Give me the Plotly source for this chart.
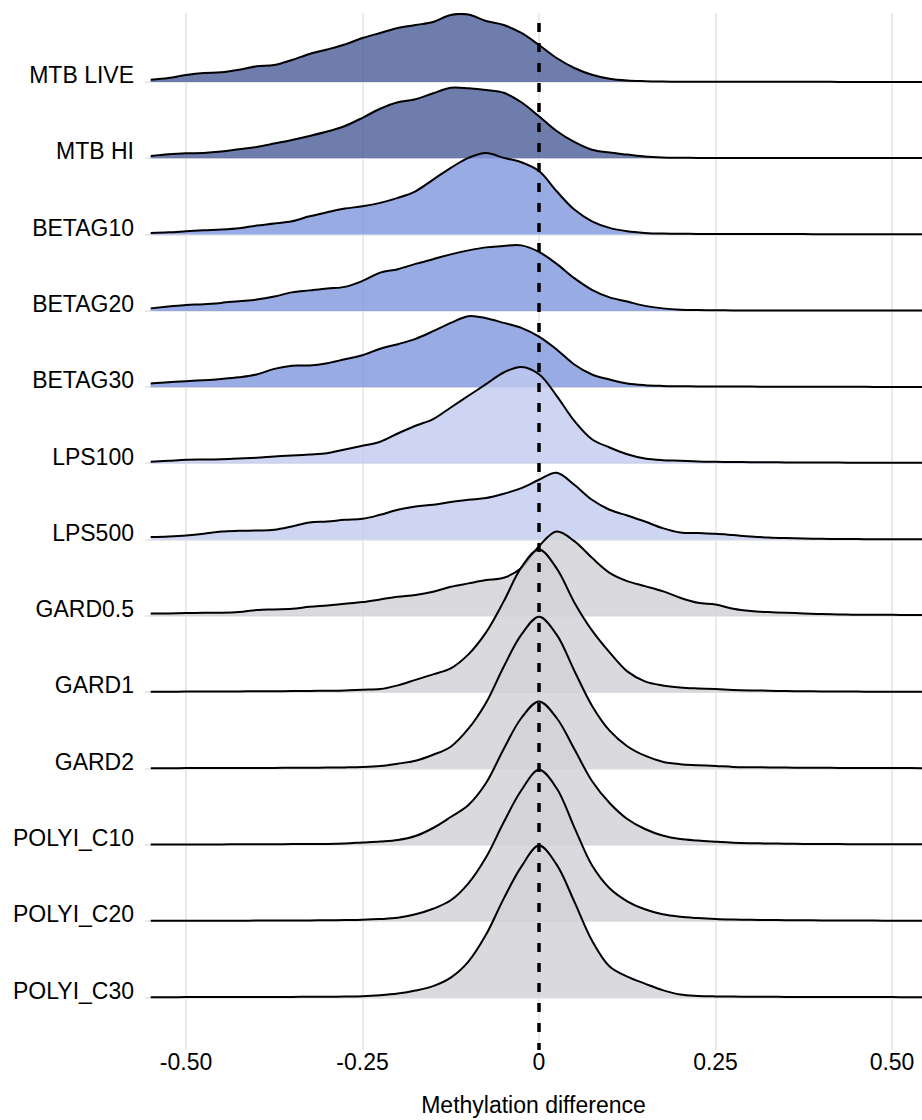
import plotly.graph_objects as go

# ---------------- data ----------------
categories = ["MTB LIVE", "MTB HI", "BETAG10", "BETAG20", "BETAG30", "LPS100", "LPS500",
              "GARD0.5", "GARD1", "GARD2", "POLYI_C10", "POLYI_C20", "POLYI_C30"]
groups = ["MTB", "MTB", "BETAG", "BETAG", "BETAG", "LPS", "LPS",
          "CTRL", "CTRL", "CTRL", "CTRL", "CTRL", "CTRL"]

x_grid = [-0.55, -0.525, -0.5, -0.475, -0.45, -0.425, -0.4, -0.375, -0.35, -0.325, -0.3,
          -0.275, -0.25, -0.225, -0.2, -0.175, -0.15, -0.125, -0.1, -0.075, -0.05, -0.025,
          0, 0.025, 0.05, 0.075, 0.1, 0.125, 0.15, 0.175, 0.2, 0.225, 0.25, 0.275,
          0.3, 0.325, 0.35, 0.375, 0.4, 0.425, 0.45, 0.475, 0.5, 0.525, 0.55]

# density (relative height) of each ridge at x_grid
d_mtb_live = [2.3, 4, 7, 9, 9.7, 12.3, 15.7, 17, 22, 28, 32.5,
              37.5, 44, 49, 54, 57, 60, 67, 67.5, 61, 57, 49, 37, 24, 14, 7.3, 3.3, 1.5, 0.8, 0.4, 0.3, 0.2, 0.2, 0.2,
              0.2, 0.2, 0.15, 0.15, 0.15, 0.1, 0.1, 0.1, 0.1, 0.1, 0.1]
d_mtb_hi = [2.3, 4, 5, 5.3, 6.7, 9, 11.3, 14.7, 18.3, 22.3, 26.7,
            32.3, 40.5, 49.5, 56, 59, 65, 70.5, 70, 68.3, 65.5, 56, 42, 27.3, 16.3, 8.5, 5.7, 3.7, 1.7, 0.8, 0.5, 0.4, 0.4, 0.3,
            0.3, 0.3, 0.3, 0.2, 0.2, 0.2, 0.2, 0.2, 0.2, 0.2, 0.2]
d_betag10 = [1.7, 2.3, 3.3, 4.3, 5, 6.3, 9, 11, 13.3, 18.3, 22.3,
             26, 28.3, 31.7, 36.7, 43.3, 55, 66.7, 76.7, 81.5, 76.7, 72.3, 63.5, 43.3, 25, 13.3, 6.7, 3.3, 1.7, 1, 0.8, 0.7, 0.7, 0.6,
             0.6, 0.5, 0.5, 0.5, 0.4, 0.4, 0.3, 0.3, 0.3, 0.3, 0.3]
d_betag20 = [2.5, 4.3, 6, 6.7, 8, 9.7, 11.3, 14.3, 18.5, 20.5, 22.5,
             24, 30, 38.3, 41.7, 47, 51.7, 56.5, 60.5, 63.5, 65, 65.5, 59, 47, 32.7, 21, 13.5, 9.3, 5, 2.5, 1.2, 0.8, 0.6, 0.5,
             0.5, 0.5, 0.5, 0.5, 0.5, 0.5, 0.5, 0.5, 0.5, 0.5, 0.5]
d_betag30 = [3.7, 5, 6, 7, 8.3, 10, 12.7, 18.3, 21.5, 21.7, 24,
             28, 32, 38.5, 43, 48.3, 56, 64.3, 71, 69, 64.3, 59.3, 50.5, 37.7, 22.7, 12.7, 7.7, 3.7, 2, 1.3, 1, 0.8, 0.7, 0.6,
             0.6, 0.5, 0.5, 0.5, 0.4, 0.4, 0.4, 0.3, 0.3, 0.3, 0.3]
d_lps100 = [1.7, 2.7, 3.7, 4, 4.3, 5, 5.7, 7, 8, 9, 10.3,
            14, 17.7, 21.7, 30, 37.7, 44.3, 56, 67.7, 79.3, 91, 96.5, 89.3, 67.7, 42.7, 24.3, 16, 9.3, 5, 3.3, 2.7, 2, 1.7, 1.5,
            1.3, 1.2, 1.1, 1, 1, 0.9, 0.8, 0.8, 0.7, 0.7, 0.6]
d_lps500 = [2.7, 3.3, 4.3, 6, 8.3, 9, 9.3, 10, 13.3, 17.3, 18.3,
            20, 21, 25, 30, 33.3, 35, 37.7, 40, 41.7, 46, 51.7, 60, 67, 55, 40, 30, 24.3, 18.3, 11.7, 7.3, 6.7, 6, 4.7,
            3.3, 2.3, 1.7, 1.3, 1, 0.7, 0.7, 0.6, 0.6, 0.5, 0.5]
d_gard05 = [2.7, 2.7, 3, 3.3, 3.3, 4, 6, 6.7, 7.3, 9.3, 10.7,
            12.3, 14, 16.7, 19.3, 21, 24.3, 29.3, 32.7, 36, 38.3, 48, 70, 84.5, 75, 58.3, 43.3, 35, 30, 25, 18.3, 13.3, 11.7, 7.3,
            5, 4, 3.3, 2.7, 2, 1.7, 1.3, 1.3, 1.3, 1, 1]
d_gard1 = [0.7, 0.7, 0.8, 0.9, 1, 1, 1.1, 1.2, 1.3, 1.5, 1.7,
           2, 2.7, 3.3, 7, 12.5, 18, 24, 38, 60, 91, 125, 143, 124, 90, 62, 40, 21, 11, 7, 5, 4, 3.3, 2.5,
           2, 1.7, 1.3, 1.1, 1, 0.9, 0.8, 0.7, 0.7, 0.6, 0.6]
d_gard2 = [0.5, 0.5, 0.6, 0.6, 0.7, 0.7, 0.8, 0.8, 0.9, 1, 1.1,
           1.3, 1.7, 2.7, 5, 8, 14, 22, 40, 66, 102, 134, 152, 134, 98, 63, 38, 22.5, 13, 7, 4.5, 3.5, 2.7, 1.8,
           1.5, 1.3, 1.1, 1, 0.9, 0.8, 0.7, 0.7, 0.6, 0.6, 0.5]
d_polyi_c10 = [0.5, 0.5, 0.5, 0.6, 0.6, 0.7, 0.7, 0.8, 0.9, 1, 1.1,
               1.5, 2.5, 3.5, 5, 9, 17, 28, 40, 62, 96, 127, 143.5, 127, 96, 64, 42, 26, 16, 9.5, 6, 4.5, 3.3, 2.3,
               1.8, 1.5, 1.3, 1.1, 1, 0.9, 0.8, 0.8, 0.7, 0.7, 0.6]
d_polyi_c20 = [0.5, 0.5, 0.5, 0.6, 0.6, 0.6, 0.7, 0.7, 0.8, 0.9, 1,
               1.2, 1.5, 2.2, 3.5, 7, 12.5, 21, 38, 64, 99, 131, 151.5, 133, 94, 56, 33, 20, 12, 7, 4.5, 3.2, 2.3, 1.8,
               1.5, 1.3, 1.1, 1, 0.9, 0.8, 0.7, 0.7, 0.6, 0.6, 0.5]
d_polyi_c30 = [0.4, 0.4, 0.5, 0.5, 0.5, 0.6, 0.6, 0.7, 0.7, 0.8, 0.9,
               1, 1.3, 2.3, 4, 7, 11.5, 20, 36, 63, 99, 131, 152, 133, 96, 57, 31, 21, 14, 7.5, 3, 1.7, 1.2, 1,
               0.9, 0.8, 0.7, 0.7, 0.6, 0.6, 0.5, 0.5, 0.5, 0.4, 0.4]

densities = [d_mtb_live, d_mtb_hi, d_betag10, d_betag20, d_betag30, d_lps100, d_lps500,
             d_gard05, d_gard1, d_gard2, d_polyi_c10, d_polyi_c20, d_polyi_c30]

x_ticks = [-0.5, -0.25, 0, 0.25, 0.5]
x_tick_labels = ["-0.50", "-0.25", "0", "0.25", "0.50"]
ref_line_x = 0

# ---------------- style ----------------
SCALE = 1 / 76.3
group_colors = {
    "MTB": "rgba(74,92,150,0.8)",
    "BETAG": "rgba(128,150,220,0.8)",
    "LPS": "rgba(193,203,239,0.8)",
    "CTRL": "rgba(209,209,214,0.8)",
}
FONT = "Liberation Sans, Arial, sans-serif"
GRID = "#EAEAEA"

for d in densities:
    assert len(d) == len(x_grid), len(d)

n = len(categories)
rows = [n - i for i in range(n)]  # MTB LIVE on top

fig = go.Figure()
for cat, grp, dens, row in zip(categories, groups, densities, rows):
    fig.add_trace(go.Scatter(x=x_grid, y=[row] * len(x_grid), mode="lines",
                             line=dict(width=0, color="rgba(0,0,0,0)"),
                             showlegend=False, hoverinfo="skip"))
    fig.add_trace(go.Scatter(x=x_grid, y=[row + v * SCALE for v in dens], mode="lines",
                             line=dict(color="black", width=2, shape="spline", smoothing=1),
                             fill="tonexty", fillcolor=group_colors[grp],
                             name=cat, showlegend=False))

fig.add_trace(go.Scatter(x=[ref_line_x, ref_line_x], y=[13.773, 0.3133], mode="lines",
                         line=dict(color="black", width=3.5, dash="9px,11px"),
                         showlegend=False, hoverinfo="skip"))

fig.update_layout(
    width=922, height=1120,
    margin=dict(l=145, r=0, t=13, b=70, pad=0),
    paper_bgcolor="white", plot_bgcolor="white",
    font=dict(family=FONT, size=23, color="black"),
    showlegend=False,
)
fig.update_xaxes(
    range=[-0.5581, 0.5425], tickvals=x_ticks, ticktext=x_tick_labels,
    showgrid=True, gridcolor=GRID, gridwidth=1.5, zeroline=False, showline=False,
    ticks="", tickfont=dict(size=23, color="black", family=FONT),
    ticklabelstandoff=-4,
    title=dict(text="Methylation difference", font=dict(size=23, color="black", family=FONT), standoff=22),
)
fig.update_yaxes(
    range=[0.3133, 13.904], tickvals=rows, ticktext=categories,
    showgrid=True, gridcolor=GRID, gridwidth=1.5, zeroline=False, showline=False,
    ticks="", tickfont=dict(size=23, color="black", family=FONT),
    ticklabelshift=-7, ticklabelstandoff=10,
)

fig.write_html("out.html")
